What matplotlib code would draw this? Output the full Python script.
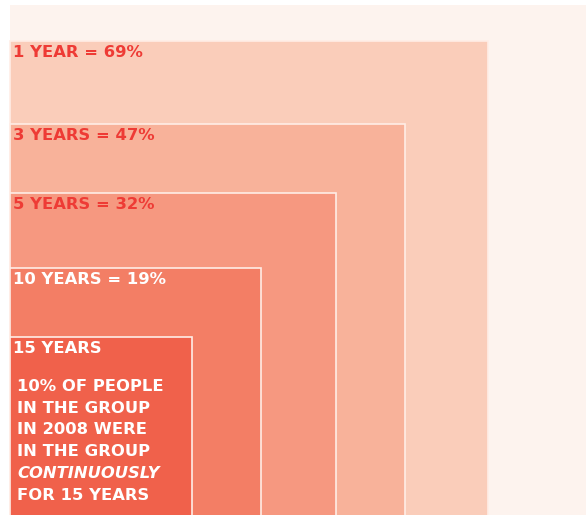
import matplotlib.pyplot as plt
from matplotlib.patches import Rectangle
import numpy as np

plt.rcParams['font.family'] = ['DejaVu Sans']

labels = ["1 YEAR", "3 YEARS", "5 YEARS", "10 YEARS", "15 YEARS"]
shares = [69, 47, 32, 19, 10]
show_pct = [True, True, True, True, False]
fills = ['#FACDBA', '#F8B29A', '#F69880', '#F37E65', '#F0614B']
text_colors = ['#EE3B35', '#EE3B35', '#EE3B35', 'white', 'white']
note_lines = ["10% OF PEOPLE", "IN THE GROUP", "IN 2008 WERE", "IN THE GROUP",
              "CONTINUOUSLY", "FOR 15 YEARS"]
note_italic = [False, False, False, False, True, False]

W, H = 588, 515
fig = plt.figure(figsize=(W / 100, H / 100), dpi=100)
ax = fig.add_axes([0, 0, 1, 1])
ax.set_xlim(0, W)
ax.set_ylim(H, 0)
ax.axis('off')

x0, y_base, full = 10, 519, 576
# background for 100%
ax.add_patch(Rectangle((x0, 5), full, y_base - 5, facecolor='#FDF3EE', edgecolor='none'))

for lab, s, pct, fc, tc in zip(labels, shares, show_pct, fills, text_colors):
    side = full * np.sqrt(s / 100)
    top = y_base - side
    ax.add_patch(Rectangle((x0, top), side, side, facecolor=fc,
                           edgecolor='#FFEDE6', linewidth=1.2))
    txt = f"{lab} = {s}%" if pct else lab
    ax.text(x0 + 3, top + 11.5, txt, color=tc, fontsize=11.8, fontweight='bold',
            va='center', ha='left')
    if not pct:
        for i, (line, it) in enumerate(zip(note_lines, note_italic)):
            ax.text(x0 + 7, top + 49.5 + i * 21.8, line, color='white', fontsize=11.8,
                    fontweight='bold', style='italic' if it else 'normal',
                    va='center', ha='left')

fig.savefig('out.png', dpi=100, facecolor='white')
